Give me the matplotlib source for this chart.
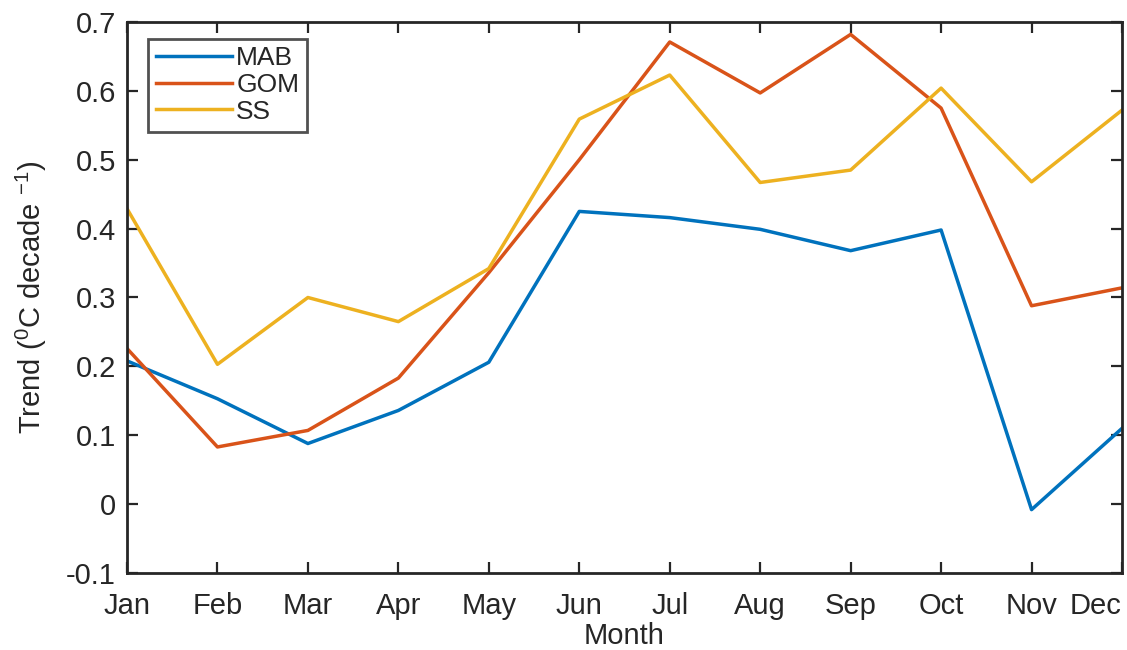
import numpy as np
import matplotlib
matplotlib.use('Agg')
from matplotlib import pyplot as plt

months = ['Jan', 'Feb', 'Mar', 'Apr', 'May', 'Jun', 'Jul', 'Aug', 'Sep', 'Oct', 'Nov', 'Dec']
mab = [0.208, 0.153, 0.088, 0.136, 0.206, 0.425, 0.416, 0.399, 0.368, 0.398, -0.008, 0.110]
gom = [0.226, 0.083, 0.107, 0.183, 0.336, 0.500, 0.671, 0.597, 0.682, 0.575, 0.288, 0.314]
ss = [0.429, 0.203, 0.300, 0.265, 0.342, 0.559, 0.623, 0.467, 0.485, 0.604, 0.468, 0.572]

plt.rcParams['font.family'] = ['Liberation Sans', 'DejaVu Sans']
plt.rcParams['mathtext.fontset'] = 'custom'
plt.rcParams['mathtext.rm'] = 'Liberation Sans'
plt.rcParams['mathtext.it'] = 'Liberation Sans'

text_col = '#262626'

fig = plt.figure(figsize=(11.27, 6.5), dpi=100)
ax = fig.add_axes([127 / 1127, 1 - 573 / 650, (1122 - 127) / 1127, (573 - 22) / 650])

x = np.arange(1, 13)
ax.plot(x, mab, color='#0072BD', lw=2.5, label='MAB')
ax.plot(x, gom, color='#D95319', lw=2.5, label='GOM')
ax.plot(x, ss, color='#EDB120', lw=2.5, label='SS')

ax.set_xlim(1, 12)
ax.set_ylim(-0.1, 0.7)
ax.set_xticks(x)
ax.set_xticklabels(months)
ax.set_yticks(np.arange(-0.1, 0.71, 0.1))
ax.set_yticklabels(['-0.1', '0', '0.1', '0.2', '0.3', '0.4', '0.5', '0.6', '0.7'])
ax.tick_params(direction='in', length=8, width=1.6, top=True, right=True,
               labelsize=21, colors=text_col, labelcolor=text_col)
ax.tick_params(axis='x', pad=14)
ax.tick_params(axis='y', pad=8)
# keep the last month label inside the figure
ax.get_xticklabels()[-1].set_horizontalalignment('right')
for sp in ax.spines.values():
    sp.set_linewidth(2.0)
    sp.set_color(text_col)

ax.set_xlabel('Month', fontsize=21, color=text_col, labelpad=1)
ax.set_ylabel('Trend ($^0$C decade $^{-1}$)', fontsize=21, color=text_col, labelpad=12)

leg = ax.legend(loc='upper left', bbox_to_anchor=(0.021, 0.97), fontsize=19, frameon=True,
                fancybox=False, edgecolor=text_col, handlelength=2.9, handletextpad=0.15,
                labelspacing=0.1, borderpad=0.3, borderaxespad=0)
leg.get_frame().set_linewidth(2.0)
for t in leg.get_texts():
    t.set_color(text_col)

fig.savefig('out.png', dpi=100)
